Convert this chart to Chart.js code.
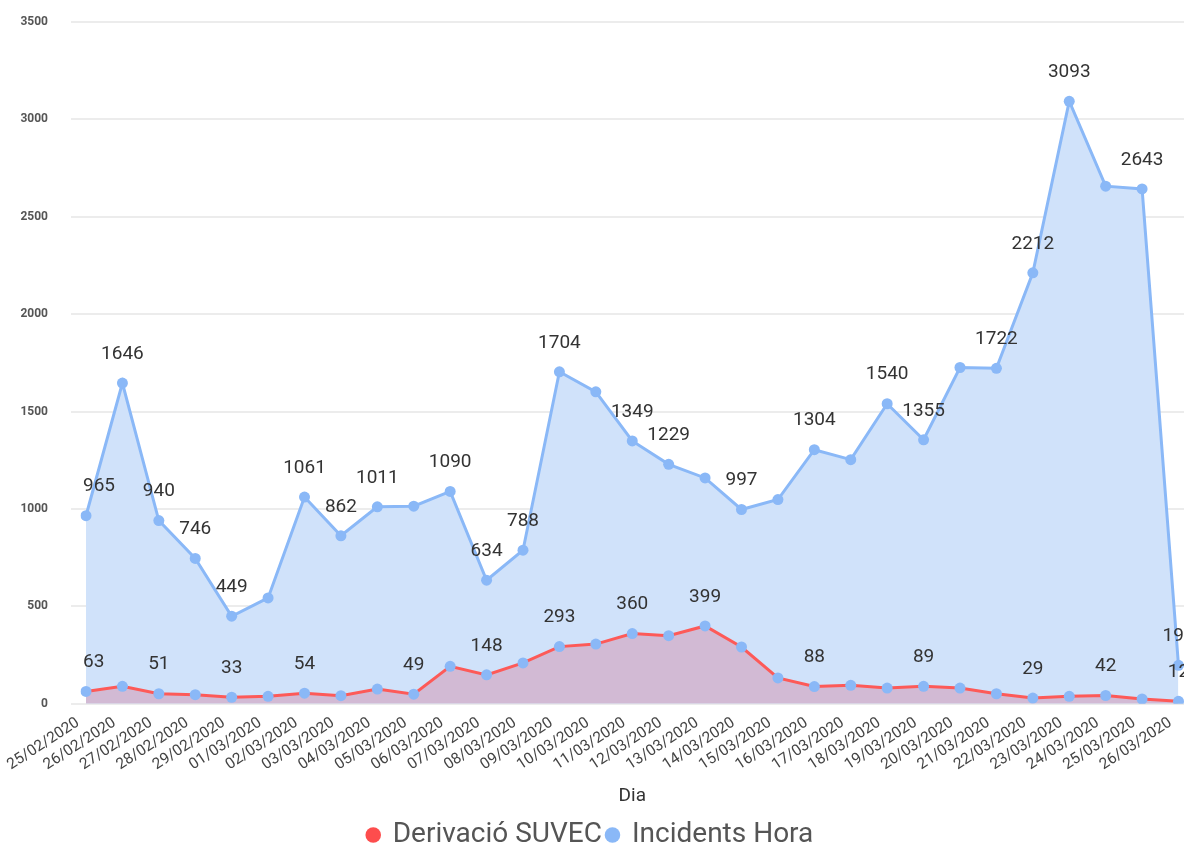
<!DOCTYPE html>
<html><head><meta charset="utf-8">
<script src="https://cdn.jsdelivr.net/npm/chart.js@4"></script>
<style>html,body{margin:0;padding:0;background:#fff;overflow:hidden}#wrap{width:1184px;height:846px;position:relative}</style>
</head><body><div id="wrap"><canvas id="c"></canvas></div>
<script>
const dies = ["25/02/2020","26/02/2020","27/02/2020","28/02/2020","29/02/2020","01/03/2020","02/03/2020","03/03/2020","04/03/2020","05/03/2020","06/03/2020","07/03/2020","08/03/2020","09/03/2020","10/03/2020","11/03/2020","12/03/2020","13/03/2020","14/03/2020","15/03/2020","16/03/2020","17/03/2020","18/03/2020","19/03/2020","20/03/2020","21/03/2020","22/03/2020","23/03/2020","24/03/2020","25/03/2020","26/03/2020"];
const incidentsHora = [965,1646,940,746,449,543,1061,862,1011,1014,1090,634,788,1704,1601,1349,1229,1159,997,1048,1304,1253,1540,1355,1726,1722,2212,3093,2657,2643,197];
const derivacioSUVEC = [63,89,51,46,33,38,54,41,75,49,192,148,209,293,306,360,349,399,291,132,88,94,80,89,80,51,29,38,42,24,12];
const incidentsLabelIdx = [0,1,2,3,4,6,7,8,10,11,12,13,15,16,18,20,22,23,25,26,27,29,30];
const derivacioLabelIdx = [0,2,4,6,9,11,13,15,17,20,23,26,28,30];
const yTicks = [0,500,1000,1500,2000,2500,3000,3500];

const labelIdx = [derivacioLabelIdx, incidentsLabelIdx];
const FONT = 'Roboto, "DejaVu Sans", sans-serif';

const gridPlugin = {
  id: 'gridPlugin',
  beforeDatasetsDraw(chart) {
    const ctx = chart.ctx, ys = chart.scales.y;
    ctx.save();
    ctx.strokeStyle = '#ececec';
    ctx.lineWidth = 2;
    yTicks.forEach(v => {
      const y = Math.round(ys.getPixelForValue(v));
      ctx.beginPath(); ctx.moveTo(71, y); ctx.lineTo(1184, y); ctx.stroke();
    });
    ctx.restore();
  }
};

const valueLabels = {
  id: 'valueLabels',
  afterDatasetsDraw(chart) {
    const ctx = chart.ctx, ca = chart.chartArea;
    ctx.save();
    ctx.font = '19px ' + FONT;
    ctx.fillStyle = '#333';
    ctx.textBaseline = 'middle';
    ctx.textAlign = 'left';
    chart.data.datasets.forEach((ds, di) => {
      const meta = chart.getDatasetMeta(di);
      labelIdx[di].forEach(i => {
        const pt = meta.data[i];
        const txt = String(ds.data[i]);
        const w = ctx.measureText(txt).width;
        let left = pt.x - w / 2;
        if (left < ca.left - 3) left = ca.left - 3;
        ctx.fillText(txt, left, pt.y - 29);
      });
    });
    ctx.restore();
  }
};

new Chart(document.getElementById('c'), {
  type: 'line',
  data: {
    labels: dies,
    datasets: [
      {
        label: 'Derivació SUVEC',
        data: derivacioSUVEC,
        borderColor: '#fd5a58',
        backgroundColor: 'rgb(210,186,212)',
        fill: 'origin',
        borderWidth: 3,
        pointRadius: 5.5,
        pointBackgroundColor: '#8ab8f7',
        pointBorderWidth: 0,
        tension: 0
      },
      {
        label: 'Incidents Hora',
        data: incidentsHora,
        borderColor: '#8ab8f7',
        backgroundColor: 'rgb(208,226,250)',
        fill: 'origin',
        borderWidth: 3,
        pointRadius: 5.5,
        pointBackgroundColor: '#8ab8f7',
        pointBorderWidth: 0,
        tension: 0
      }
    ]
  },
  options: {
    responsive: true,
    maintainAspectRatio: false,
    animation: false,
    layout: { padding: { left: 0, right: 3, top: 22, bottom: -13 } },
    plugins: {
      tooltip: { enabled: false },
      legend: {
        position: 'bottom',
        labels: {
          usePointStyle: true,
          pointStyle: 'circle',
          boxWidth: 11,
          boxHeight: 11,
          padding: 5,
          color: '#555',
          font: { size: 28, family: FONT },
          generateLabels(chart) {
            const items = Chart.defaults.plugins.legend.labels.generateLabels(chart);
            items[0].fillStyle = '#fd4d4d'; items[0].strokeStyle = '#fd4d4d';
            items[1].fillStyle = '#8ab8f7'; items[1].strokeStyle = '#8ab8f7';
            items.forEach(it => { it.lineWidth = 0; });
            return items;
          }
        }
      }
    },
    scales: {
      x: {
        offset: false,
        grid: { display: false },
        border: { display: false },
        afterFit(scale) { scale.paddingLeft = 0; scale.paddingRight = 0; },
        ticks: {
          autoSkip: false,
          minRotation: 33,
          maxRotation: 33,
          padding: 2,
          labelOffset: -8,
          color: '#444',
          font: { size: 15.5, family: FONT }
        },
        title: {
          display: true,
          text: 'Dia',
          color: '#333',
          font: { size: 19, family: FONT },
          padding: { top: 9, bottom: 8 }
        }
      },
      y: {
        min: 0,
        max: 3500,
        grid: { display: false },
        border: { display: false },
        afterFit(scale) { scale.width = 86; scale.paddingTop = 0; scale.paddingBottom = 0; },
        ticks: {
          stepSize: 500,
          padding: 30,
          color: '#555',
          callback: v => String(v),
          font: { size: 12, weight: 'bold', family: FONT }
        }
      }
    }
  },
  plugins: [gridPlugin, valueLabels]
});
</script>
</body></html>
